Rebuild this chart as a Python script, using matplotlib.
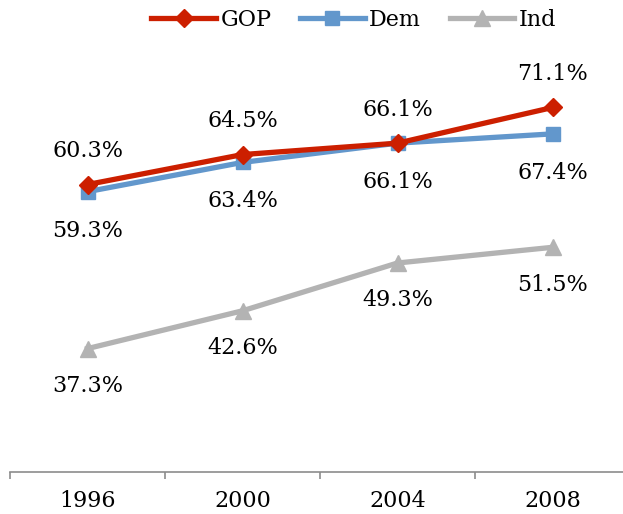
import numpy as np
import matplotlib.pyplot as plt

# data
years = ["1996", "2000", "2004", "2008"]
gop = [60.3, 64.5, 66.1, 71.1]
dem = [59.3, 63.4, 66.1, 67.4]
ind = [37.3, 42.6, 49.3, 51.5]

plt.rcParams['font.family'] = ['DejaVu Serif']
fs = 16

fig = plt.figure(figsize=(6.23, 5.14), dpi=100)
ax = fig.add_axes([10/623, 42/514, 620/623, 428/514])

x = np.arange(len(years))

ax.plot(x, ind, color="#b3b3b3", lw=3.8, marker="^", ms=11, label="Ind")
ax.plot(x, dem, color="#6297cc", lw=3.8, marker="s", ms=10, label="Dem")
ax.plot(x, gop, color="#cc1f00", lw=3.8, marker="D", ms=9, label="GOP")

# value labels
for xi, v in zip(x, gop):
    ax.annotate(f"{v}%", (xi, v), xytext=(0, 24), textcoords="offset points",
                ha="center", va="center", fontsize=fs)
for xi, v in zip(x, dem):
    ax.annotate(f"{v}%", (xi, v), xytext=(0, -28), textcoords="offset points",
                ha="center", va="center", fontsize=fs)
for xi, v in zip(x, ind):
    ax.annotate(f"{v}%", (xi, v), xytext=(0, -27), textcoords="offset points",
                ha="center", va="center", fontsize=fs)

ax.set_xlim(-0.5, 3.5)
ax.set_ylim(20, 80)
ax.set_yticks([])
for s in ["top", "right", "left"]:
    ax.spines[s].set_visible(False)
ax.spines["bottom"].set_color("#8c8c8c")
ax.spines["bottom"].set_linewidth(1.2)

ax.set_xticks(x)
ax.set_xticklabels(years, fontsize=fs)
ax.tick_params(axis="x", which="major", length=0, pad=13)
ax.set_xticks(np.arange(-0.5, 4, 1), minor=True)
ax.tick_params(axis="x", which="minor", length=5, color="#8c8c8c", width=1.2)

handles, labels = ax.get_legend_handles_labels()
fig.legend(handles[::-1], labels[::-1], loc="center", bbox_to_anchor=(0.568, 0.961),
           ncol=3, frameon=False, fontsize=fs, handlelength=2.9,
           handletextpad=0.2, columnspacing=1.3)

fig.savefig("out.png", dpi=100)
